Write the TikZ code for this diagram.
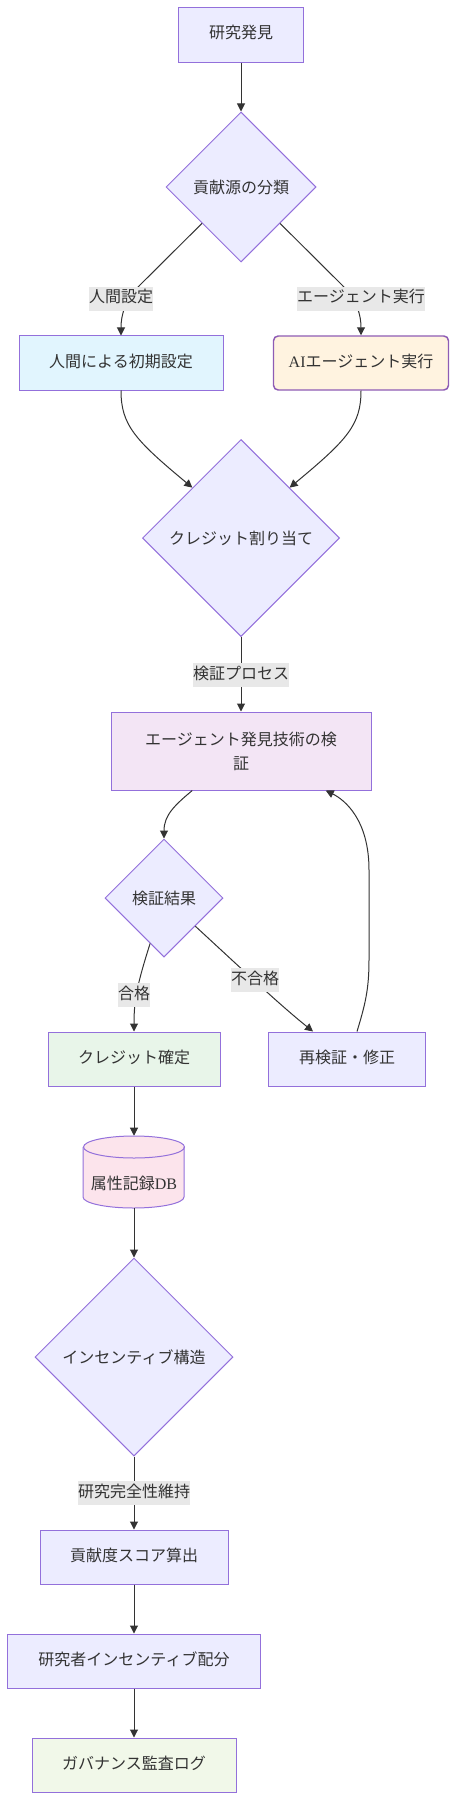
\documentclass[tikz,border=0pt]{standalone}
\usepackage{fontspec}
\setmainfont{Liberation Serif}
\newfontfamily\jpfont{Noto Sans CJK JP}
\usetikzlibrary{shapes.geometric,arrows.meta,calc}
\definecolor{txt}{HTML}{333333}
\definecolor{lineC}{HTML}{333333}
\definecolor{strokeP}{HTML}{9370DB}
\definecolor{strokeAI}{HTML}{8E5CB5}
\definecolor{defFill}{HTML}{ECECFF}
\definecolor{humanFill}{HTML}{E1F5FE}
\definecolor{aiFill}{HTML}{FFF3E0}
\definecolor{verFill}{HTML}{F3E5F5}
\definecolor{okFill}{HTML}{E8F5E9}
\definecolor{dbFill}{HTML}{FCE4EC}
\definecolor{govFill}{HTML}{F1F8E9}
\definecolor{lblFill}{HTML}{E8E8E8}
\begin{document}
\begin{tikzpicture}[x=0.75pt,y=-0.75pt,
  every node/.style={font=\jpfont\fontsize{12}{18}\selectfont, text=txt},
  box/.style={rectangle, draw=strokeP, line width=0.75pt, fill=defFill, inner sep=0pt, text height=9pt, text depth=3pt},
  dia/.style={diamond, draw=strokeP, line width=0.75pt, fill=defFill, inner sep=0pt, minimum width=#1, minimum height=#1},
  lbl/.style={fill=lblFill, inner xsep=0pt, inner ysep=3pt, text height=9pt, text depth=3pt},
  arr/.style={draw=lineC, line width=0.75pt, -{Triangle[length=6pt,width=6pt]}},
]
\useasboundingbox (0,0) rectangle (456,1801);

% nodes
\node[box, minimum width=93.75pt, minimum height=41.25pt] (A) at (241,35) {研究発見};
\node[dia=112.5pt] (B) at (241,187) {貢献源の分類};
\node[box, fill=humanFill, minimum width=153pt, minimum height=40.5pt] (H) at (121,363) {人間による初期設定};
\node[box, fill=aiFill, draw=strokeAI, line width=1.1pt, rounded corners=3.5pt, minimum width=131.25pt, minimum height=40.5pt] (AI) at (361,363) {{\rmfamily AI}エージェント実行};
\node[dia=147.75pt] (C) at (241,538) {クレジット割り当て};
\node[rectangle, draw=strokeP, line width=0.75pt, fill=verFill, inner sep=0pt, align=center, minimum width=195pt, minimum height=58.5pt] (V) at (241,751) {エージェント発見技術の検\\証};
\node[dia=88.5pt] (D) at (164,898) {検証結果};
\node[box, fill=okFill, minimum width=129pt, minimum height=40.5pt] (K) at (134,1059) {クレジット確定};
\node[box, minimum width=117.75pt, minimum height=40.5pt] (R) at (347,1059) {再検証・修正};

% database cylinder
\node[inner sep=0pt, minimum width=75.75pt, minimum height=54pt] (DB) at (134,1172) {};
\fill[dbFill] (83,1147) -- (83,1197) arc[start angle=180, end angle=0, x radius=50.5, y radius=11] -- (184,1147) arc[start angle=0, end angle=-180, x radius=50.5, y radius=11] -- cycle;
\draw[strokeP, line width=0.75pt] (134,1147) ellipse[x radius=50.5, y radius=11];
\draw[strokeP, line width=0.75pt] (83,1147) -- (83,1197) arc[start angle=180, end angle=0, x radius=50.5, y radius=11] -- (184,1147);
\node (DBt) at (134,1183) {属性記録{\rmfamily DB}};

\node[dia=148.5pt] (I) at (134,1357) {インセンティブ構造};
\node[box, minimum width=141pt, minimum height=40.5pt] (S) at (134,1557) {貢献度スコア算出};
\node[box, minimum width=189.75pt, minimum height=40.5pt] (P) at (134,1661) {研究者インセンティブ配分};
\node[box, fill=govFill, minimum width=153pt, minimum height=40.5pt] (G) at (134,1765) {ガバナンス監査ログ};

% edges
\draw[arr] (A.south) -- (B.north);
\draw[arr] (B.223) -- (140,285) .. controls (125,300) and (121,315) .. (H.north);
\draw[arr] (B.317) -- (342,285) .. controls (357,300) and (361,315) .. (AI.north);
\draw[arr] (H.south) .. controls (121,425) and (135,440) .. (C.134);
\draw[arr] (AI.south) .. controls (361,425) and (347,440) .. (C.46);
\draw[arr] (C.south) -- (V.north);
\draw[arr] (V.219) .. controls (175,805) and (164,815) .. (D.north);
\draw[arr] (D.253) .. controls (137,985) and (134,1000) .. (K.north);
\draw[arr] (D.318) .. controls (245,972) and (280,1005) .. (R.141);
\draw[arr] (R.70) .. controls (365,1005) and (369,990) .. (369,960) -- (369,870) .. controls (369,820) and (345,800) .. (V.335);
\draw[arr] (K.south) -- (DB.north);
\draw[arr] (DB.south) -- (I.north);
\draw[arr] (I.south) -- (S.north);
\draw[arr] (S.south) -- (P.north);
\draw[arr] (P.south) -- (G.north);

% edge labels
\node[lbl] (L1) at (121,299) {人間設定};
\node[lbl] (L2) at (361,299) {エージェント実行};
\node[lbl] (L3) at (241,675) {検証プロセス};
\node[lbl] (L4) at (134,995) {合格};
\node[lbl] (L5) at (255,980) {不合格};
\node[lbl] (L6) at (134,1493) {研究完全性維持};
\end{tikzpicture}
\end{document}
